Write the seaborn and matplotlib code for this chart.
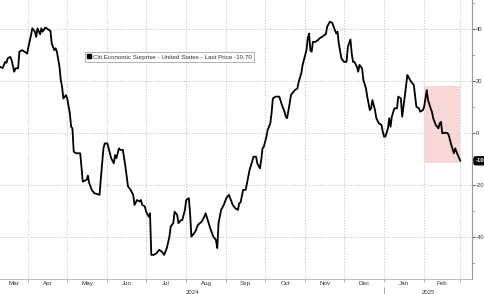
import numpy as np
import pandas as pd
import matplotlib
matplotlib.use("Agg")
import matplotlib.pyplot as plt
import matplotlib.dates as mdates
from matplotlib.lines import Line2D
from matplotlib.patches import Rectangle
import seaborn as sns

# ---- data ----
start_date = "2024-03-10"
day_offsets = [0, 2, 4, 5, 6, 8, 9, 11, 12, 14, 15, 17, 19, 21, 22, 24, 25, 27, 28, 29,
               31, 32, 33, 35, 36, 38, 39, 40, 42, 43, 44, 46, 47, 48, 49, 51, 52, 54, 55, 56,
               57, 59, 62, 63, 64, 67, 68, 69, 71, 73, 75, 77, 78, 80, 81, 83, 85, 86, 88, 89,
               90, 92, 93, 95, 97, 98, 99, 101, 103, 104, 106, 108, 109, 110, 112, 113, 115, 116, 117, 119,
               121, 123, 125, 127, 129, 131, 132, 134, 135, 137, 138, 140, 141, 143, 144, 146, 147, 148, 151, 153,
               156, 158, 159, 161, 163, 165, 167, 168, 169, 171, 173, 175, 177, 178, 180, 182, 184, 185, 186, 188,
               190, 191, 193, 195, 196, 198, 199, 201, 202, 203, 204, 206, 207, 209, 210, 211, 213, 216, 218, 220,
               221, 222, 224, 225, 226, 228, 230, 231, 233, 234, 235, 237, 238, 239, 240, 241, 242, 244, 246, 247,
               249, 251, 252, 253, 255, 257, 258, 260, 261, 262, 264, 266, 268, 269, 271, 272, 273, 274, 276, 277,
               278, 280, 281, 283, 284, 286, 287, 288, 290, 291, 293, 295, 296, 297, 298, 300, 301, 302, 303, 305,
               307, 308, 310, 311, 313, 315, 316, 318, 320, 322, 324, 325, 327, 328, 329, 330, 331, 333, 334, 335,
               337, 339, 340, 341, 342, 344, 346, 347, 349, 351, 352, 354, 356]
surprise_values = [25.5, 25.0, 27.4, 27.0, 28.8, 29.3, 28.0, 23.6, 24.9, 24.9, 31.3, 31.9, 31.3, 30.6, 33.2, 37.7, 40.3, 39.0, 37.0, 40.3,
                   38.0, 40.3, 39.0, 40.6, 40.3, 39.6, 39.3, 34.5, 31.9, 32.6, 31.3, 25.5, 20.4, 17.8, 13.3, 14.6, 13.3, 7.6, 2.4, 1.8,
                   -7.2, -7.8, -7.8, -13.0, -18.7, -18.0, -16.4, -19.3, -21.9, -23.2, -23.5, -23.8, -17.4, -5.9, -4.0, -4.0, -7.8, -9.7, -11.7, -8.5,
                   -9.7, -5.9, -6.5, -6.5, -13.0, -16.8, -20.6, -21.9, -23.8, -27.7, -25.8, -26.4, -25.8, -27.7, -28.3, -30.3, -32.2, -30.9, -46.9, -46.9,
                   -46.3, -45.0, -45.6, -46.9, -44.3, -39.9, -36.0, -34.7, -30.3, -31.5, -34.7, -33.5, -33.5, -29.6, -25.8, -25.1, -30.9, -39.9, -38.0, -35.4,
                   -34.1, -32.2, -30.9, -34.1, -37.3, -39.9, -41.2, -44.3, -34.7, -29.6, -27.7, -25.1, -23.8, -25.1, -27.7, -29.0, -29.6, -27.0, -26.8, -21.9,
                   -21.9, -19.3, -14.2, -11.0, -9.1, -9.1, -11.7, -13.6, -10.4, -5.9, -5.3, -1.4, 1.2, 3.7, 7.6, 13.3, 14.0, 14.0, 10.8, 8.2,
                   6.3, 5.7, 11.4, 14.6, 15.3, 16.5, 17.2, 19.7, 23.0, 26.2, 28.1, 31.9, 36.4, 38.3, 31.9, 31.3, 35.1, 35.1, 35.8, 36.4,
                   37.0, 37.7, 38.1, 40.9, 42.8, 42.4, 40.9, 38.3, 39.0, 34.5, 28.7, 27.4, 27.4, 33.2, 36.0, 30.6, 27.4, 27.4, 25.5, 23.6,
                   26.2, 24.9, 20.4, 17.2, 14.0, 8.8, 9.5, 12.7, 8.8, 5.7, 3.7, 3.1, 0.5, -1.4, -1.4, 1.8, 5.7, 2.4, 6.3, 9.5,
                   9.5, 14.0, 13.3, 6.3, 14.0, 22.3, 21.4, 19.7, 18.5, 10.1, 9.5, 8.2, 8.8, 10.1, 13.3, 16.5, 12.7, 9.5, 8.2, 5.7,
                   3.1, 1.8, 3.7, 4.3, -0.1, 0.1, 0.0, -0.8, -4.6, -7.8, -5.9, -8.5, -10.7]
series_name = "Citi Economic Surprise - United States - Last Price -10.70"
last_label = "-10"
month_labels = ["Mar", "Apr", "May", "Jun", "Jul", "Aug", "Sep", "Oct", "Nov", "Dec", "Jan", "Feb"]
year_labels = ["2024", "2025"]
y_ticks = [-40, -20, 0, 20, 40]
highlight_start, highlight_end = "2025-02-01", "2025-03-01"
highlight_low, highlight_high = -11.5, 18.0

# ---- build frame ----
t0 = pd.Timestamp(start_date)
df = pd.DataFrame({"date": [t0 + pd.Timedelta(days=d) for d in day_offsets],
                   "value": surprise_values})

sns.set_theme(style="white")
plt.rcParams["font.family"] = ["Liberation Sans", "DejaVu Sans"]

fig = plt.figure(figsize=(4.85, 2.94), dpi=100)
ax = fig.add_axes([0.0, 15 / 294, 472 / 485, 279 / 294])

x_lo = pd.Timestamp("2024-03-10")
x_hi = pd.Timestamp("2025-03-10")
ax.set_xlim(x_lo, x_hi)
ax.set_ylim(-56.2, 51.2)

# highlight box
hs, he = mdates.date2num(pd.Timestamp(highlight_start)), mdates.date2num(pd.Timestamp(highlight_end))
ax.add_patch(Rectangle((hs, highlight_low), he - hs, highlight_high - highlight_low,
                       facecolor="#f6d2cf", edgecolor="none", alpha=0.85, zorder=1))

sns.lineplot(data=df, x="date", y="value", ax=ax, color="black", linewidth=1.3, zorder=3)
ax.set_xlabel("")
ax.set_ylabel("")

# grid
grid_kw = dict(color="#c8c8c8", linestyle=(0, (1, 1.5)), linewidth=0.8)
month_starts = pd.date_range("2024-04-01", "2025-03-01", freq="MS")
for m in month_starts:
    ax.axvline(m, zorder=0, **grid_kw)
for yv in y_ticks:
    ax.axhline(yv, zorder=0, **grid_kw)

# spines
for s in ["top", "left"]:
    ax.spines[s].set_visible(False)
ax.spines["right"].set_color("#9a9a9a")
ax.spines["right"].set_linewidth(0.8)
ax.spines["bottom"].set_color("#b0b0b0")
ax.spines["bottom"].set_linewidth(0.6)

# y axis on right
ax.yaxis.tick_right()
ax.set_yticks(y_ticks)
ax.set_yticklabels([str(v) for v in y_ticks])
ax.set_yticks([-50, -30, -10, 10, 30, 50], minor=True)
ax.tick_params(axis="y", which="major", right=True, length=2.0, width=0.6, pad=0.8,
               labelsize=4.2, colors="#333333")
ax.tick_params(axis="y", which="minor", right=True, length=1.5, width=0.5, colors="#555555")

# x axis: ticks at month boundaries, labels mid-month
ax.set_xticks(list(month_starts))
ax.set_xticklabels([])
mids = [x_lo + (pd.Timestamp("2024-04-01") - x_lo) / 2]
for a, b in zip(month_starts[:-1], month_starts[1:]):
    mids.append(a + (b - a) / 2)
ax.set_xticks(mids, minor=True)
ax.set_xticklabels(month_labels, minor=True)
ax.tick_params(axis="x", which="major", bottom=True, length=2, width=0.5, colors="#999999")
ax.tick_params(axis="x", which="minor", bottom=False, length=0, pad=1.5, labelsize=4.5,
               labelcolor="#333333")

# year labels
ytrans = ax.get_xaxis_transform()
jan1 = pd.Timestamp("2025-01-01")
ax.text(x_lo + (jan1 - x_lo) / 2, -10.5 / 279, year_labels[0], transform=ytrans,
        ha="center", va="top", fontsize=4.3, color="#333333")
ax.text(jan1 + (x_hi - jan1) / 2, -10.5 / 279, year_labels[1], transform=ytrans,
        ha="center", va="top", fontsize=4.3, color="#333333")
ax.plot([jan1, jan1], [-8 / 279, -15 / 279], transform=ytrans, color="#999999",
        linewidth=0.6, clip_on=False)

# last-value tag
ax.annotate(last_label, xy=(1.0, surprise_values[-1]), xycoords=("axes fraction", "data"),
            xytext=(2.5, 0), textcoords="offset points", ha="left", va="center",
            fontsize=4.2, color="white", fontweight="bold",
            bbox=dict(boxstyle="round,pad=0.25", fc="black", ec="black"))

# legend
handle = Line2D([], [], linestyle="none", marker="s", markersize=3.5, color="black")
leg = ax.legend([handle], [series_name], loc="upper left",
                bbox_to_anchor=(85 / 472, 1 - 52 / 279), frameon=True, fancybox=False,
                fontsize=4.5, handlelength=0.6, handletextpad=0.3, borderpad=0.35,
                borderaxespad=0)
leg.get_frame().set_edgecolor("#8c8c8c")
leg.get_frame().set_linewidth(0.6)
for t in leg.get_texts():
    t.set_color("#333333")

fig.savefig("out.png", dpi=100)
